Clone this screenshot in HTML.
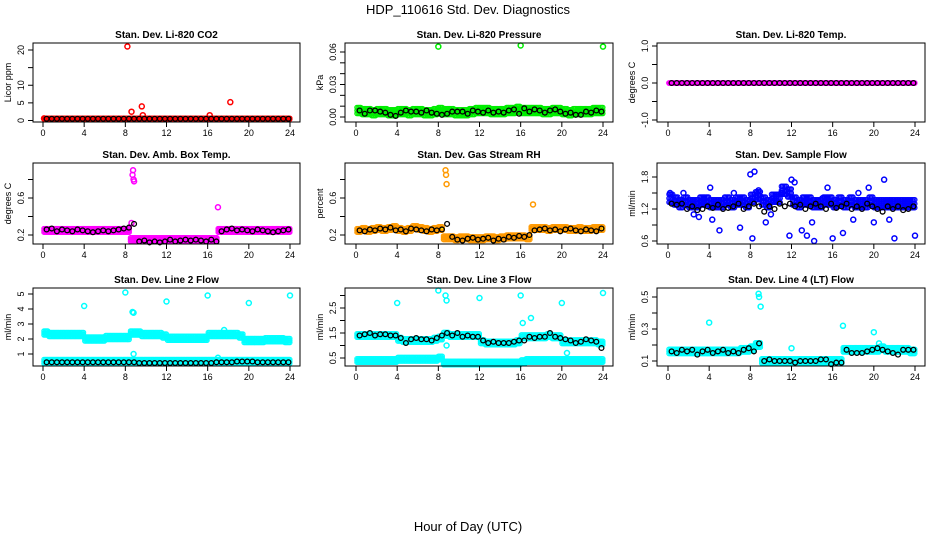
<!DOCTYPE html>
<html><head><meta charset="utf-8"><style>
body{margin:0;background:#fff}
svg text{font-family:"Liberation Sans",Arial,sans-serif}
</style></head><body>
<svg id="c" width="936" height="540">
<text x="468" y="14" text-anchor="middle" font-size="13">HDP_110616  Std. Dev. Diagnostics</text>
<text x="468" y="531" text-anchor="middle" font-size="13">Hour of Day (UTC)</text>
</svg>
<script>
// ---- data (half-hour step values, 48 per series) ----
const co2Main=[.5,.5,.5,.5,.5,.5,.5,.5,.5,.5,.5,.5,.5,.5,.5,.5,.5,.5,.5,.5,.5,.5,.5,.5,.5,.5,.5,.5,.5,.5,.5,.5,.5,.5,.5,.5,.5,.5,.5,.5,.5,.5,.5,.5,.5,.5,.5,.5];
const co2Black=co2Main;
const co2Out=[[8.2,21],[8.6,2.5],[9.6,4],[9.7,1.5],[16.2,1.5],[18.2,5.2],[0.1,0.6]];
const presMain=[.006,.005,.005,.004,.005,.005,.004,.004,.005,.005,.004,.005,.005,.004,.004,.005,.006,.005,.005,.004,.004,.004,.005,.006,.006,.006,.005,.005,.005,.006,.006,.007,.006,.006,.006,.006,.005,.005,.006,.006,.005,.004,.005,.005,.005,.005,.006,.006];
const presBlack=[.006,.003,.006,.006,.005,.004,.002,.001,.004,.006,.005,.005,.004,.006,.004,.003,.002,.003,.005,.005,.005,.003,.006,.005,.004,.006,.004,.005,.004,.006,.007,.003,.008,.005,.007,.006,.004,.006,.007,.005,.003,.004,.002,.002,.005,.004,.006,.005];
const presOut=[[8,0.065],[16,0.066],[24,0.065]];
const tempMain=new Array(48).fill(0);
const tempBlack=tempMain;
const ambMain=[.25,.25,.25,.25,.25,.25,.25,.25,.25,.25,.25,.25,.25,.25,.25,.25,.25,.15,.15,.15,.15,.15,.15,.15,.15,.15,.15,.15,.15,.15,.15,.15,.15,.15,.25,.25,.25,.25,.25,.25,.25,.25,.25,.25,.25,.25,.25,.25];
const ambBlack=[.26,.27,.24,.26,.25,.24,.26,.25,.24,.23,.24,.25,.24,.25,.26,.27,.28,.32,.13,.14,.12,.13,.12,.13,.15,.13,.14,.15,.14,.15,.14,.13,.15,.13,.24,.26,.27,.25,.26,.25,.24,.26,.25,.24,.23,.24,.25,.26];
const ambOut=[[8.7,0.85],[8.75,0.9],[8.8,0.8],[8.85,0.78],[8.6,0.33],[17,0.5]];
const rhMain=[.25,.26,.25,.26,.27,.26,.27,.28,.26,.25,.26,.28,.27,.26,.25,.26,.27,.17,.17,.16,.17,.17,.16,.16,.16,.17,.17,.16,.17,.18,.18,.18,.18,.17,.27,.27,.27,.26,.27,.27,.27,.26,.26,.27,.26,.26,.27,.27];
const rhBlack=[.25,.24,.26,.25,.27,.26,.28,.25,.26,.24,.27,.26,.25,.24,.26,.25,.26,.32,.18,.15,.14,.16,.17,.15,.16,.17,.14,.16,.15,.18,.17,.19,.18,.2,.25,.26,.27,.25,.26,.24,.26,.27,.25,.24,.26,.25,.24,.27];
const rhOut=[[8.7,0.9],[8.75,0.85],[8.8,0.75],[17.2,0.53]];
const flowMain=[1.4,1.35,1.3,1.35,1.3,1.3,1.35,1.35,1.3,1.3,1.3,1.35,1.3,1.35,1.35,1.3,1.4,1.45,1.35,1.3,1.4,1.4,1.55,1.5,1.35,1.3,1.35,1.35,1.3,1.3,1.35,1.35,1.3,1.35,1.3,1.35,1.3,1.3,1.3,1.35,1.3,1.3,1.3,1.3,1.3,1.3,1.3,1.3];
const flowBlack=[1.3,1.28,1.3,1.2,1.25,1.18,1.2,1.25,1.22,1.28,1.2,1.22,1.25,1.3,1.2,1.25,1.3,1.25,1.15,1.25,1.2,1.3,1.25,1.3,1.25,1.28,1.2,1.25,1.3,1.25,1.2,1.3,1.22,1.25,1.3,1.2,1.25,1.2,1.3,1.25,1.2,1.15,1.25,1.2,1.25,1.18,1.2,1.25];
const flowOut=[[0.2,1.5],[1.5,1.5],[2.5,1.1],[3,1.05],[4.1,1.6],[4.3,1.0],[5,0.8],[6.4,1.5],[7,0.85],[8,1.85],[8.2,0.65],[8.4,1.9],[8.8,1.55],[9.5,0.95],[10,1.1],[11,1.5],[11.8,0.7],[12,1.75],[12.3,1.7],[13,0.8],[13.5,0.7],[14,0.95],[14.2,0.6],[15,1.4],[15.5,1.6],[16,0.65],[16.5,1.25],[17,0.75],[18,1.0],[18.5,1.5],[19.5,1.6],[20,0.95],[21,1.75],[21.5,1.0],[22,0.65],[24,0.7]];
const l2Upper=[2.4,2.3,2.3,2.3,2.3,2.3,2.3,2.3,2.0,2.0,2.0,2.0,2.1,2.1,2.1,2.1,2.1,2.4,2.4,2.3,2.3,2.3,2.3,2.2,2.05,2.05,2.05,2.05,2.05,2.05,2.05,2.05,2.3,2.3,2.3,2.3,2.3,2.3,2.2,1.9,1.9,1.9,1.9,1.95,1.95,1.95,1.95,1.9];
const l2Lower=new Array(48).fill(0.5);
const l2Black=[.45,.45,.45,.45,.45,.45,.45,.45,.45,.45,.45,.45,.45,.45,.45,.45,.45,.45,.4,.4,.4,.4,.4,.4,.4,.4,.4,.4,.4,.4,.4,.4,.4,.45,.45,.45,.45,.5,.5,.5,.5,.45,.45,.45,.45,.45,.45,.45];
const l2Out=[[4,4.2],[8,5.1],[8.7,3.8],[8.8,3.75],[8.8,1.0],[12,4.5],[16,4.9],[17.6,2.6],[17,0.75],[20,4.4],[24,4.9]];
const l3Upper=[1.4,1.4,1.4,1.4,1.4,1.4,1.4,1.4,1.25,1.2,1.2,1.2,1.2,1.2,1.2,1.25,1.3,1.45,1.4,1.4,1.4,1.4,1.4,1.4,1.15,1.1,1.1,1.1,1.1,1.1,1.1,1.15,1.35,1.35,1.35,1.35,1.35,1.4,1.35,1.35,1.15,1.15,1.15,1.15,1.15,1.15,1.15,1.1];
const l3Lower=[.4,.4,.4,.4,.4,.4,.4,.4,.45,.45,.45,.45,.45,.45,.45,.45,.5,.3,.3,.3,.3,.3,.3,.3,.3,.3,.3,.3,.3,.3,.3,.3,.35,.4,.4,.4,.4,.4,.4,.4,.4,.4,.4,.4,.4,.4,.4,.4];
const l3Black=[1.4,1.45,1.5,1.4,1.45,1.45,1.4,1.4,1.3,1.1,1.25,1.3,1.25,1.25,1.2,1.3,1.4,1.5,1.4,1.5,1.35,1.4,1.35,1.35,1.2,1.1,1.15,1.1,1.1,1.1,1.15,1.2,1.2,1.35,1.3,1.35,1.35,1.5,1.35,1.3,1.25,1.2,1.1,1.15,1.25,1.2,1.15,0.9];
const l3Out=[[4,2.7],[8,3.2],[8.7,3.0],[8.8,2.8],[8.8,1.0],[12,2.9],[16,3.0],[16.2,1.9],[17,2.1],[20,2.7],[20.5,0.7],[24,3.1]];
const l4Main=[.16,.16,.16,.16,.16,.16,.16,.16,.16,.16,.16,.16,.16,.16,.17,.17,.18,.2,.1,.1,.1,.1,.1,.1,.1,.1,.1,.1,.1,.1,.1,.1,.1,.1,.17,.17,.17,.17,.17,.17,.17,.18,.17,.17,.17,.17,.17,.16];
const l4Black=[.16,.15,.17,.16,.17,.14,.16,.17,.15,.16,.17,.15,.16,.15,.17,.18,.16,.21,.1,.11,.1,.1,.1,.1,.09,.1,.1,.1,.1,.11,.11,.08,.09,.09,.17,.15,.15,.15,.16,.17,.18,.17,.16,.15,.14,.17,.17,.17];
const l4Out=[[4,0.34],[8.8,0.52],[8.85,0.5],[9,0.44],[12,0.18],[17,0.32],[20,0.28],[20.5,0.21]];
const xTicks=[0,4,8,12,16,20,24];

const P=[
 {t:"Stan. Dev. Li-820 CO2",yl:"Licor ppm",col:"#ff0000",x0:43,x1:290,y0:120.5,ya:0,yb:20,y1:50,bt:43,bb:122,bl:33,br:300,ticks:[0,5,10,15,20],tl:[0,5,10,20],band:0.5,s:[co2Main],k:co2Black,o:co2Out},
 {t:"Stan. Dev. Li-820 Pressure",yl:"kPa",col:"#00ee00",x0:356,x1:603,y0:117,ya:0,yb:0.06,y1:52,bt:43,bb:122,bl:345,br:613,ticks:[0,.01,.02,.03,.04,.05,.06],tl:[0,.03,.06],tf:2,band:3,s:[presMain],k:presBlack,o:presOut},
 {t:"Stan. Dev. Li-820 Temp.",yl:"degrees C",col:"#ff00ff",x0:668,x1:915,y0:83,ya:0,yb:1,y1:46,bt:43,bb:122,bl:657,br:925,ticks:[-1,-.5,0,.5,1],tl:[-1,0,1],tf:1,band:0,s:[tempMain],k:tempBlack,o:[]},
 {t:"Stan. Dev. Amb. Box Temp.",yl:"degrees C",col:"#ff00ff",x0:43,x1:290,y0:235,ya:0.2,yb:0.6,y1:198,bt:163,bb:244,bl:33,br:300,ticks:[.2,.4,.6,.8],tl:[.2,.6],tf:1,band:1.8,s:[ambMain],k:ambBlack,o:ambOut},
 {t:"Stan. Dev. Gas Stream RH",yl:"percent",col:"#ff9900",col2:"#ffee00",x0:356,x1:603,y0:235,ya:0.2,yb:0.6,y1:198,bt:163,bb:244,bl:345,br:613,ticks:[.2,.4,.6,.8],tl:[.2,.6],tf:1,band:1.8,s:[rhMain],k:rhBlack,o:rhOut},
 {t:"Stan. Dev. Sample Flow",yl:"ml/min",col:"#0000ff",x0:668,x1:915,y0:241,ya:0.6,yb:1.8,y1:177,bt:163,bb:244,bl:657,br:925,ticks:[.6,.9,1.2,1.5,1.8],tl:[.6,1.2,1.8],tf:1,band:4,s:[flowMain],k:flowBlack,o:flowOut},
 {t:"Stan. Dev. Line 2 Flow",yl:"ml/min",col:"#00ffff",x0:43,x1:290,y0:354,ya:1,yb:5,y1:294,bt:288,bb:366,bl:33,br:300,ticks:[1,2,3,4,5],tl:[1,2,3,4,5],band:2,s:[l2Upper,l2Lower],k:l2Black,o:l2Out},
 {t:"Stan. Dev. Line 3 Flow",yl:"ml/min",col:"#00ffff",x0:356,x1:603,y0:358,ya:0.5,yb:2.5,y1:308,bt:288,bb:366,bl:345,br:613,ticks:[.5,1,1.5,2,2.5,3],tl:[.5,1.5,2.5],tf:1,band:1.8,s:[l3Upper,l3Lower],k:l3Black,o:l3Out},
 {t:"Stan. Dev. Line 4 (LT) Flow",yl:"ml/min",col:"#00ffff",x0:668,x1:915,y0:361,ya:0.1,yb:0.5,y1:297,bt:288,bb:366,bl:657,br:925,ticks:[.1,.2,.3,.4,.5],tl:[.1,.3,.5],tf:1,band:2.2,s:[l4Main],k:l4Black,o:l4Out}
];
const NS="http://www.w3.org/2000/svg";
const svg=document.getElementById('c');
function mk(tag,at,par){const e=document.createElementNS(NS,tag);for(const k in at)e.setAttribute(k,at[k]);(par||svg).appendChild(e);return e;}
P.forEach((p,i)=>{
 const g=mk('g',{});
 
 
 const X=h=>p.x0+(p.x1-p.x0)*h/24;
 const Y=v=>p.y0+(p.y1-p.y0)*(v-p.ya)/(p.yb-p.ya);
 const tt=mk('text',{x:(p.bl+p.br)/2,y:p.bt-5,'text-anchor':'middle','font-size':10,'font-weight':'bold'},g);tt.textContent=p.t;
 
 
 p.s.forEach(arr=>{
  for(let h=0.1;h<=24;h+=0.12){
   const v=arr[Math.min(47,Math.floor(h*2))];
   for(const d of [-p.band,0,p.band]){
    const c=mk('circle',{cx:X(h).toFixed(1),cy:(Y(v)+d).toFixed(1),r:2.2,fill:'none',stroke:p.col,'stroke-width':1.1},g);
    
    
   }
   if(p.col2){const c=mk('circle',{cx:X(h).toFixed(1),cy:Y(v).toFixed(1),r:1,fill:p.col2},g);
    
    }
  }
 });
 p.o.forEach(([h,v])=>{const c=mk('circle',{cx:X(h),cy:Y(v),r:2.5,fill:'none',stroke:p.col,'stroke-width':1.5},g);
  
  });
 p.k.forEach((v,j)=>{const h=j*0.5+0.35;const c=mk('circle',{cx:X(h),cy:Y(v),r:2.4,fill:'none',stroke:'#000','stroke-width':1.3},g);
  
  });
 const b=mk('rect',{x:p.bl,y:p.bt,width:p.br-p.bl,height:p.bb-p.bt,fill:'none',stroke:'#000','stroke-width':1},g);
 
 
 xTicks.forEach(t=>{mk('line',{x1:X(t),x2:X(t),y1:p.bb,y2:p.bb+5,stroke:'#000'},g);
  const tx=mk('text',{x:X(t),y:p.bb+14,'text-anchor':'middle','font-size':9},g);tx.textContent=t;
  
  });
 p.ticks.forEach(t=>{const y=Y(t);if(y<p.bt-1||y>p.bb+1)return;mk('line',{x1:p.bl,x2:p.bl-5,y1:y,y2:y,stroke:'#000'},g);});
 p.tl.forEach(t=>{const y=Y(t);const lx=p.bl-9;
  const tx=mk('text',{x:lx,y:y,'text-anchor':'middle','font-size':9,transform:`rotate(-90 ${lx} ${y})`},g);
  tx.textContent=p.tf!==undefined?t.toFixed(p.tf):t;
  
  });
 const yl=mk('text',{x:p.bl-22,y:(p.bt+p.bb)/2,'text-anchor':'middle','font-size':9,transform:`rotate(-90 ${p.bl-22} ${(p.bt+p.bb)/2})`},g);
 yl.textContent=p.yl;
 
 
});
</script>
</body></html>
